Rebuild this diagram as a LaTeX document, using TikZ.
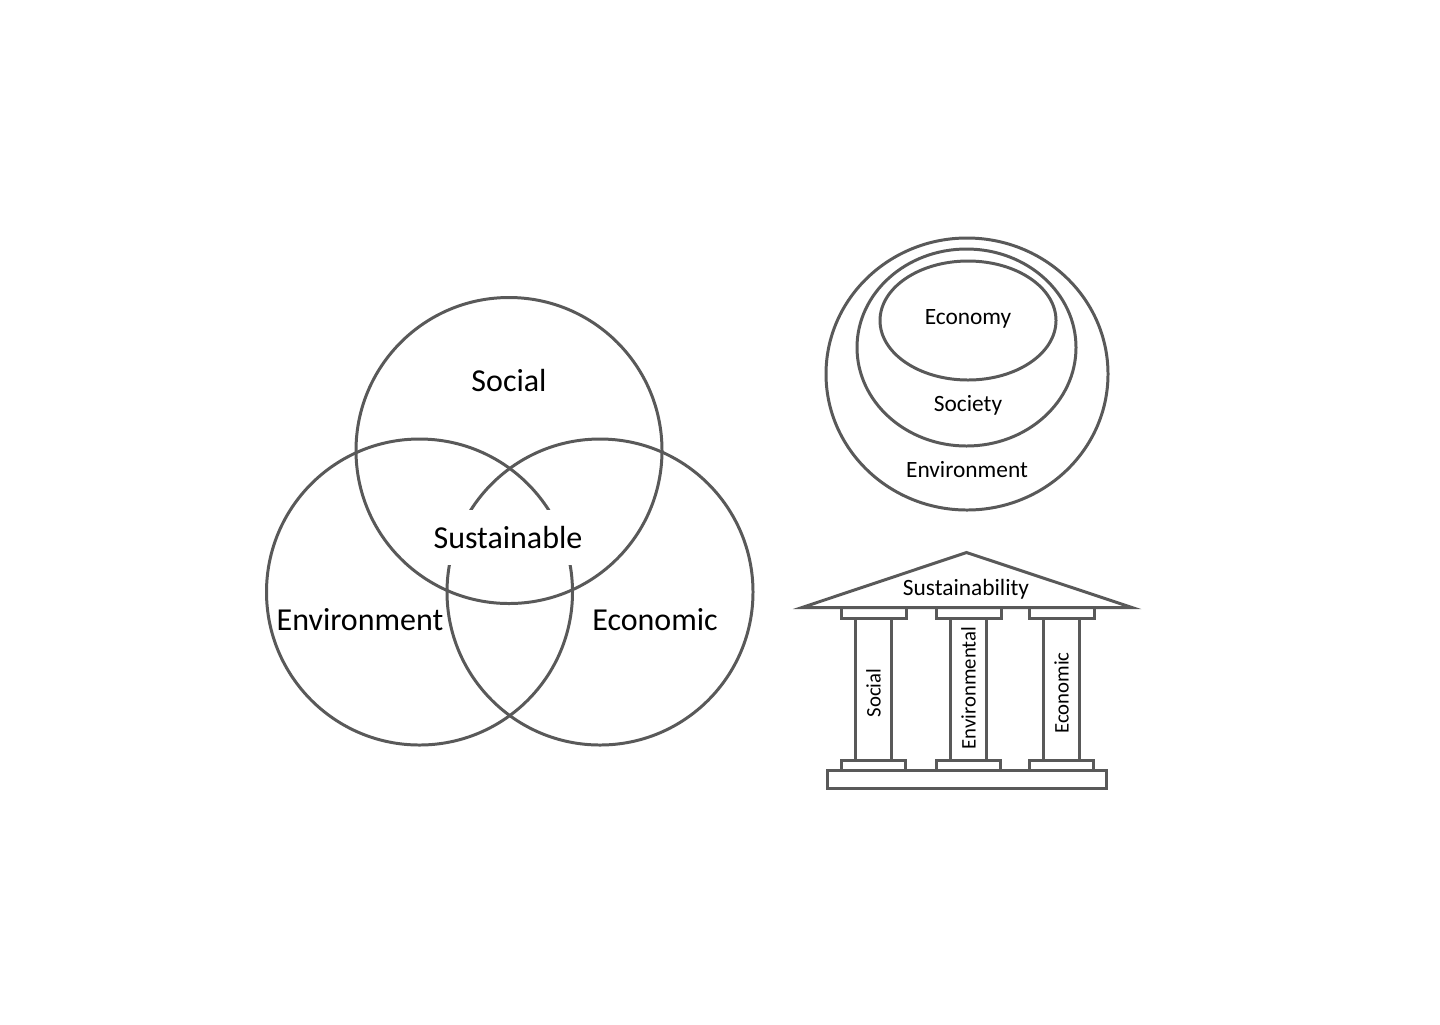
\documentclass[tikz,border=0pt]{standalone}
\usepackage{fontspec}
\setmainfont{Carlito}
\definecolor{linegray}{RGB}{89,89,89}
\begin{document}
\begin{tikzpicture}[x=0.2mm,y=-0.2mm,
  ring/.style={draw=linegray,line width=1.7pt},
  venntxt/.style={font=\fontsize{18.2}{22}\selectfont,inner sep=0pt},
  ringtxt/.style={font=\fontsize{13.3}{16}\selectfont,inner sep=0pt},
  pillartxt/.style={font=\fontsize{11.8}{14}\selectfont,inner sep=0pt,rotate=90}]
  \useasboundingbox[fill=white] (0,0) rectangle (1440,1024);
  % three pillars venn
  \draw[ring] (509,450.5) circle[radius=153];
  \draw[ring] (419.5,592) circle[radius=153];
  \draw[ring] (600,592) circle[radius=153];
  \node[venntxt] (social) at (509,380) {Social};
  \node[venntxt,fill=white,inner xsep=2pt,minimum height=11mm] (sust) at (508,537.5) {Sustainable};
  \node[venntxt] (env) at (360,620) {Environment};
  \node[venntxt] (econ) at (655,620) {Economic};
  % nested view
  \draw[ring] (967,374) ellipse[x radius=141,y radius=136];
  \draw[ring] (966.5,347.5) ellipse[x radius=109.5,y radius=98.5];
  \draw[ring] (968,320.5) ellipse[x radius=88,y radius=59.5];
  \node[ringtxt] (economy) at (968,319) {Economy};
  \node[ringtxt] (society) at (968,405) {Society};
  \node[ringtxt] (environ) at (967,470) {Environment};
  % temple
  \draw[ring,line join=miter] (802,607.5) -- (966.5,552.5) -- (1132,607.5) -- cycle;
  \node[ringtxt] (roof) at (966,589) {Sustainability};
  \foreach \cx/\cy/\lbl in {873.5/693/Social, 968.5/688/Environmental, 1061.5/693/Economic}{
    \draw[ring] (\cx-18,618) rectangle (\cx+18,760);
    \draw[ring] (\cx-32.5,607.5) rectangle (\cx+32.5,618);
    \draw[ring] (\cx-32,760) rectangle (\cx+32,770.5);
    \node[pillartxt] (p-\lbl) at (\cx,\cy) {\lbl};
  }
  \draw[ring] (827,770.5) rectangle (1106,788);
\end{tikzpicture}
\end{document}
